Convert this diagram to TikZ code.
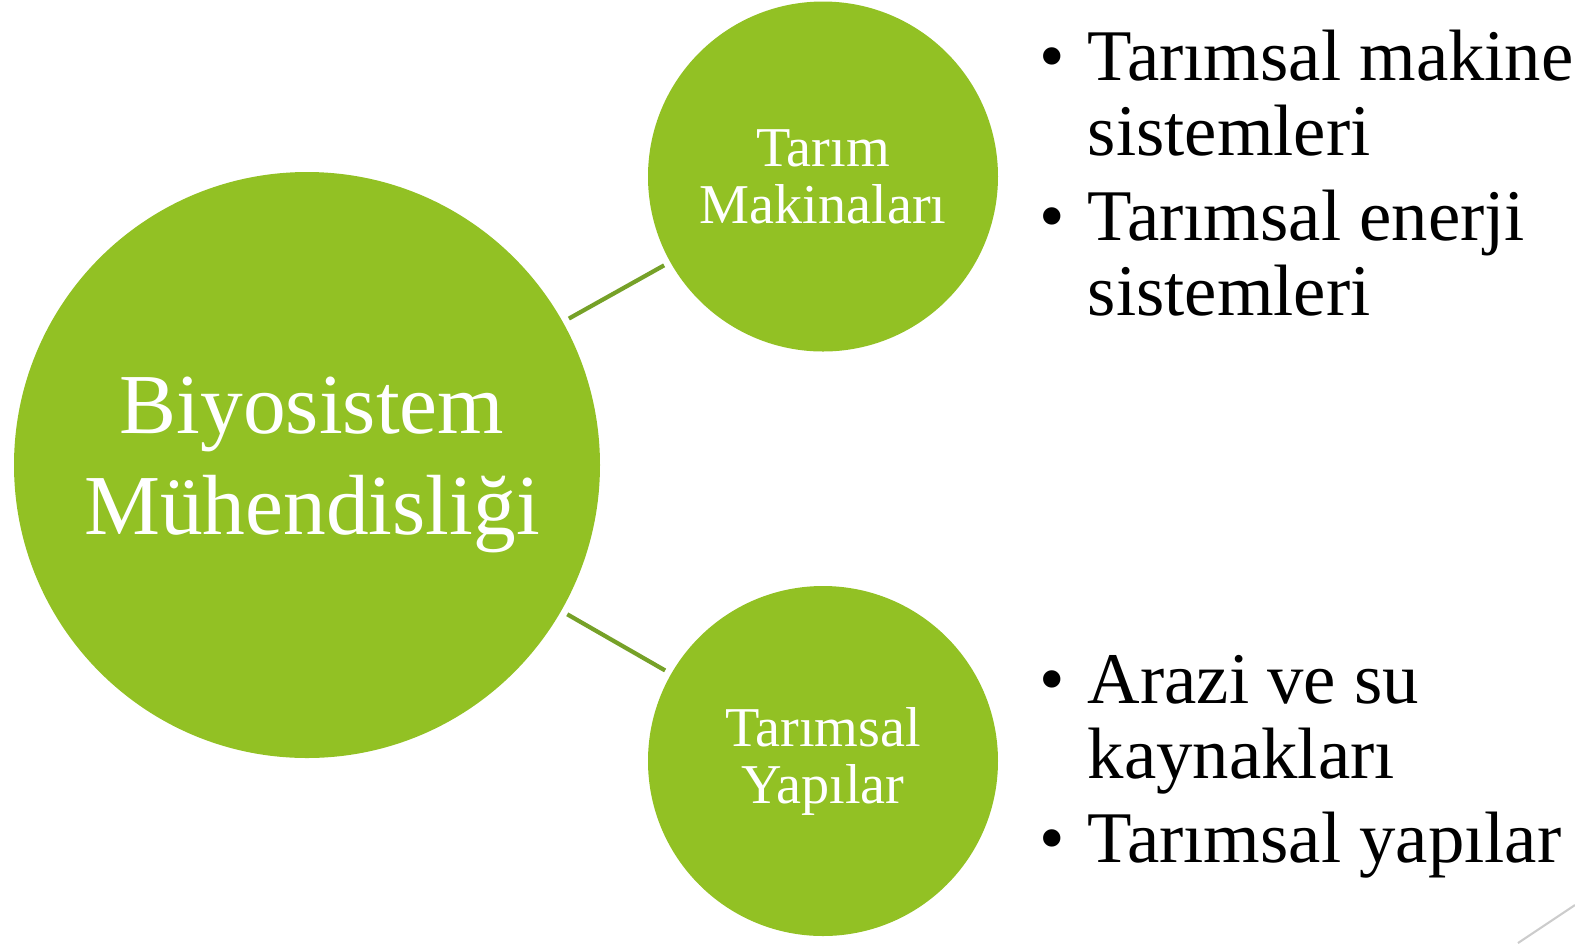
\documentclass[tikz,border=0pt]{standalone}
\usepackage{fontspec}
\setmainfont{Liberation Serif}
\usepackage{tikz}
\definecolor{yesil}{HTML}{92C124}
\definecolor{koyu}{HTML}{76A128}

\begin{document}
\begin{tikzpicture}[
    daire/.style={circle, fill=yesil, text=white, align=center, inner sep=0pt, outer sep=0pt},
    bag/.style={koyu, line width=1.2pt, shorten <=2pt, shorten >=2pt},
    madde/.style={anchor=base west, align=left, inner sep=0pt, font=\fontsize{20.7}{21.3}\selectfont},
    isaret/.style={anchor=base, inner sep=0pt, font=\fontsize{20.7}{21.3}\selectfont}]
  \useasboundingbox (0,0) rectangle (15.75,-9.43);
  \node[daire, minimum size=5.86cm, font=\fontsize{24.3}{28.5}\selectfont] (bm) at (3.07,-4.65) {\hspace{0.1cm}Biyosistem\\\hspace{0.1cm}Mühendisliği};
  \node[daire, minimum size=3.5cm, font=\fontsize{16}{16.2}\selectfont] (tm) at (8.23,-1.765) {Tarım\\Makinaları};
  \node[daire, minimum size=3.5cm, font=\fontsize{16}{16.2}\selectfont] (ty) at (8.23,-7.61) {Tarımsal\\Yapılar};
  \draw[bag] (bm) -- (tm);
  \draw[bag] (bm) -- (ty);
  % maddeler (base = son satir)
  \node[isaret] (b1) at (10.52,-0.80) {\textbullet};
  \node[madde] (m1) at (10.87,-1.55) {Tarımsal makine\\sistemleri};
  \node[isaret] (b2) at (10.52,-2.40) {\textbullet};
  \node[madde] (m2) at (10.87,-3.15) {Tarımsal enerji\\sistemleri};
  \node[isaret] (b3) at (10.52,-7.03) {\textbullet};
  \node[madde] (m3) at (10.87,-7.78) {Arazi ve su\\kaynakları};
  \node[isaret] (b4) at (10.52,-8.62) {\textbullet};
  \node[madde] (m4) at (10.87,-8.62) {Tarımsal yapılar};
  \draw[black!20, line width=0.6pt] (15.18,-9.43) -- (15.75,-9.05);
\end{tikzpicture}
\end{document}
